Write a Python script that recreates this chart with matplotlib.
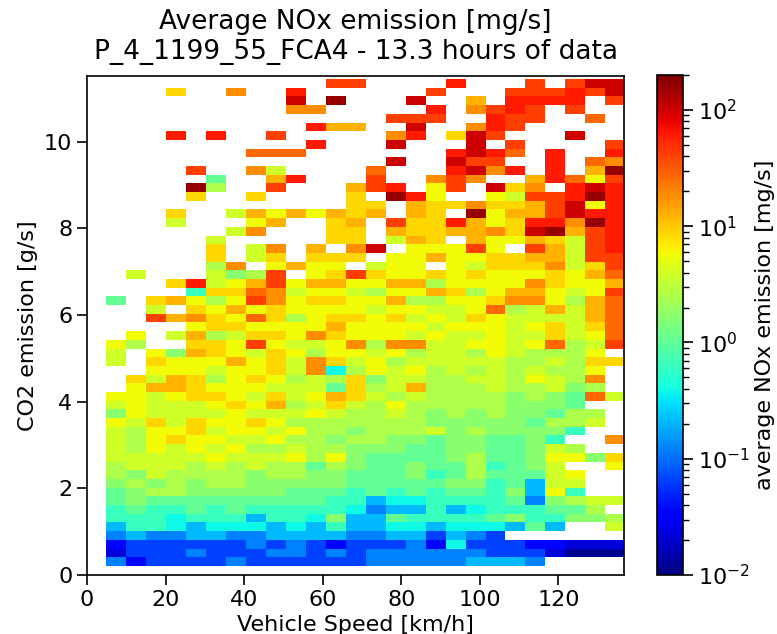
import numpy as np
import matplotlib
matplotlib.use('Agg')
import matplotlib.pyplot as plt
from matplotlib.colors import LogNorm

# colour codes -> average NOx emission [mg/s]
nox_levels = {
    'A': 0.012, 'B': 0.022, 'C': 0.036, 'D': 0.066, 'E': 0.12, 'F': 0.21,
    'G': 0.39, 'H': 0.64, 'I': 1.05, 'J': 1.7, 'K': 2.6, 'L': 3.8,
    'M': 5.7, 'N': 8.4, 'O': 12.5, 'P': 18.6, 'Q': 27.6, 'R': 41.0,
    'S': 61.0, 'T': 100.0, 'U': 164.0,
}

# bin edges
speed_edges = np.linspace(4.95, 137.0, 27)   # km/h, 26 bins
co2_edges = np.linspace(0.21, 11.45, 57)     # g/s, 56 bins

# one string per CO2 bin, top (high CO2) to bottom, one char per speed bin
nox_rows = [
    "...........RR....S...R.RTT",
    "...N..P..S......R...RRRSRT",
    ".........T.U...T..O.SSSS.R",
    ".........PP.....S.PRSR.R..",
    "..............RRR..SRR..Q.",
    "..........SOO..T..PSR.....",
    "...S.S..R.....PS.NTR...T..",
    "..........S...T...T.R....R",
    ".......QQQ.......STSQ.S..S",
    "..............T..TRR..S.QP",
    "....R..PL....Q...STPS.S.OU",
    ".....I..OS...R..PRP..OSQMR",
    "....UK..R...ORS.MR.TNP.STS",
    "....N..N....N.USM..MLRRSUS",
    "............NN.ONNPNNORTMS",
    "...N..LOMOMONO.ON.UMOORTSS",
    "...L...MO..NO.RNNSOMNSSPUS",
    "......LP...NN.ONNOOPNTUORS",
    ".....L.....NN.LON.OMMONLRS",
    ".....N.LP.O.PT.MMMRM.ROLRS",
    ".....N.LN.NNN.MMOMMNNOOLRR",
    ".....KP.MOMM.LMM.MLNNNPLNR",
    ".L...LJKR.MNRNMMNMNMMMNMOQ",
    "...NSLMORMOOMMOOKMMMMPNMMO",
    "....HNNQPLMMLKMMONKMOOMLMR",
    "I.NOMKMRPMNNMMOKKMMNPPMKOQ",
    "..L.NMOMNMMMMLMMLLMQKLOLOQ",
    "..ROPNMQNKMNNMNLMLNMLLLLOQ",
    "....MNNMMMMOMMMMLMMMLMNLNQ",
    ".M.LOKLNNMPNMMMLMLLMLLNLMQ",
    "MK..NNMRMLLMPKPPLLMMLMQKLR",
    "L.MJONMLNMKMMLMKLLKMLKKKM.",
    "L.NMMMOMNLPNLMKLLLLLKKLKNN",
    "..MMMLMMNLPGKMLMKLKLKLKKM.",
    ".NLONKMNMKLKNJLLKKLLKMLKP.",
    ".MOONMMMLLLINKLOKKKLKKLJK.",
    "MMLMNNMLNLMONLKLKKKKJKJIQL",
    "LMLLLMNMOKLNLKMKKKKKJJJI..",
    "JMLLLLMLLLMLKKLKJKJKJJIKK.",
    "MLNLNMMNMKKKKKKKJJJJJIKKL.",
    "LKMMNLMMLMKKJKKKLJKJJJJH..",
    "LKMNMMLLMKKJKKJJIJJIIJH..P",
    "LKMLMLMKKLKKJJJIIJJIIJLK..",
    "LLLLLMLLLMKMJIIIIJKIIJMMJN",
    "KLLLKLKLKKIKJIIJIIKHIJL..M",
    "KJLKKKKJKKJJIIIJHIKIIILM..",
    "JKJKJKKJJJJJIIIIIJJHIFLL..",
    "IJKKJJJJJIIIHIHIHIIHJFMH..",
    "IJIIIIIIIIIHHFGGHHHHIEJKLL",
    "HIHHIHIHHHHHGEFFHFGHHHIIK.",
    "HHHGHHHFHHGJFFIHHHHIJHHJJK",
    "FHHGFGGGFGFHFFGGFGGGFIF..L",
    "EFEEFFEEFFFFEEFFDFED......",
    "CDDDDDDEDEDCDDDECGDDDCCBBB",
    "BDDDEDDDEEDEDEEEEEEDDDBAAA",
    "ECDDDDEDDDDDDEEEEEFFFE....",
]

z = np.full((len(nox_rows), len(nox_rows[0])), np.nan)
for i, row in enumerate(nox_rows):
    for j, ch in enumerate(row):
        if ch in nox_levels:
            z[i, j] = nox_levels[ch]
z = np.ma.masked_invalid(z[::-1])

fig = plt.figure(figsize=(7.77, 6.34), dpi=100)
ax = fig.add_axes([87 / 777, 59 / 634, 537 / 777, 499 / 634])
mesh = ax.pcolormesh(speed_edges, co2_edges, z, cmap='jet',
                     norm=LogNorm(vmin=0.01, vmax=200))
ax.set_xlim(0, 136.7)
ax.set_ylim(0, 11.52)
ax.set_xticks([0, 20, 40, 60, 80, 100, 120])
ax.set_yticks([0, 2, 4, 6, 8, 10])
ax.tick_params(labelsize=16, length=7, width=1.2)
for s in ax.spines.values():
    s.set_linewidth(1.2)
ax.set_xlabel('Vehicle Speed [km/h]', fontsize=16)
ax.set_ylabel('CO2 emission [g/s]', fontsize=16)
ax.set_title('Average NOx emission [mg/s]\nP_4_1199_55_FCA4 - 13.3 hours of data',
             fontsize=19, pad=12)

cax = fig.add_axes([657 / 777, 59 / 634, 26 / 777, 500 / 634])
cb = fig.colorbar(mesh, cax=cax)
cb.ax.tick_params(labelsize=16, length=7, width=1.2)
cb.ax.tick_params(which='minor', length=4, width=1)
cb.outline.set_linewidth(1.2)
cb.set_label('average NOx emission [mg/s]', fontsize=16)

fig.savefig('out.png', dpi=100)
